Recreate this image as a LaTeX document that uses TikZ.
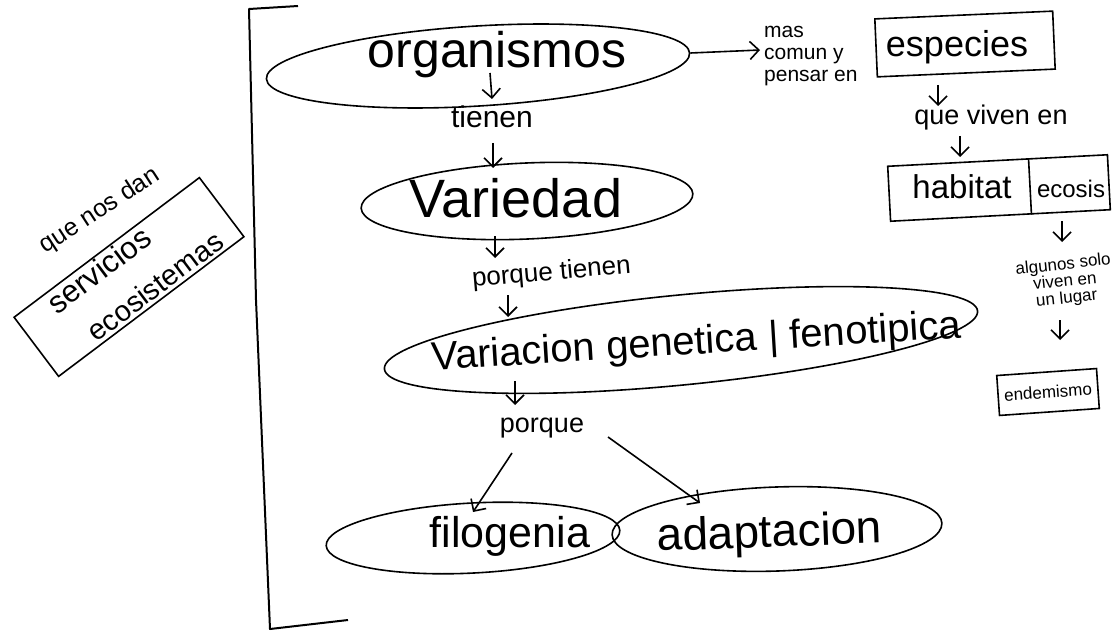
\documentclass[tikz,border=0pt]{standalone}
\usepackage{fontspec}
\setmainfont{Liberation Sans}
\usetikzlibrary{shapes.geometric,arrows.meta,calc}
\newcommand{\fsz}[2]{\fontsize{#1}{#2}\selectfont}

\begin{document}
\begin{tikzpicture}[x=1pt,y=-1pt,
  ink/.style={line width=1.6pt, draw=black},
  oval/.style={ink, ellipse, inner sep=0pt},
  frame/.style={ink, rectangle, inner sep=0pt},
  lbl/.style={inner sep=0pt, text=black},
  arr/.style={line width=1.6pt, black, -{Straight Barb[length=9pt,width=18pt]}},
]

\fill[white] (0,0) rectangle (1118,631);
\useasboundingbox (0,0) rectangle (1118,631);

% bracket that groups the central chain
\draw[line width=2pt, line join=round] (298,6) -- (249,9) -- (256,300) -- (270,629) -- (348,620);

% ---- central chain ----
\node[oval, minimum width=424pt, minimum height=80pt, rotate=3.5] (org) at (478,66) {};
\node[lbl, anchor=base, font=\fsz{50}{56}] (orgt) at (497,68) {organismos};

\node[lbl, anchor=base, font=\fsz{30}{34}] (tienen) at (492,128) {tienen};
\draw[arr] ($(tienen.base)+(-2,-55)$) -- ($(tienen.base)+(0,-29)$);
\draw[arr] ($(tienen.base)+(1,15)$) -- ($(tienen.base)+(1,40)$);

\node[oval, minimum width=332pt, minimum height=76pt, rotate=2.5] (var) at (527,201) {};
\node[lbl, anchor=base, font=\fsz{54}{60}] (vart) at (516,217) {Variedad};

\node[lbl, anchor=base, font=\fsz{26}{30}, rotate=5] (pt) at (552,280) {porque tienen};
\draw[arr] ($(pt.base)+(-57,-44)$) -- ($(pt.base)+(-57,-22)$);
\draw[arr] ($(pt.base)+(-44,15)$) -- ($(pt.base)+(-44,37)$);

\node[oval, minimum width=596pt, minimum height=90pt, rotate=5.6] (vgf) at (681,340) {};
\node[lbl, anchor=base, font=\fsz{40}{46}, rotate=3.5] (vgft) at (697,354) {Variacion genetica | fenotipica};

\node[lbl, anchor=base, font=\fsz{27}{30}] (porque) at (542,432) {porque};
\draw[arr] ($(porque.base)+(-27,-51)$) -- ($(porque.base)+(-27,-27)$);

\node[oval, minimum width=294pt, minimum height=70pt, rotate=3] (filo) at (473,538) {};
\node[lbl, anchor=base, font=\fsz{43}{48}] (filot) at (510,547) {filogenia};

\node[oval, minimum width=330pt, minimum height=84pt, rotate=2] (adap) at (777,529) {};
\node[lbl, anchor=base, font=\fsz{46}{50}, rotate=2] (adapt) at (770,547) {adaptacion};

\draw[arr] ($(porque.base)+(-30,21)$) -- ($(filo.center)+(0,-26)$);
\draw[arr] ($(porque.base)+(66,5)$) -- ($(adap.center)+(-77,-26)$);

% ---- right column ----
\node[lbl, anchor=west, align=left, font=\fsz{21}{22}] (mas) at (764,56) {mas\\comun y\\pensar en};
\draw[arr] (org.east) -- ($(org.east -| mas.west)+(-4,-3)$);

\node[frame, minimum width=178pt, minimum height=58pt, rotate=2.5] (esp) at (965,44) {};
\node[lbl, anchor=base, font=\fsz{36}{40}] (espt) at (957,57) {especies};

\node[lbl, anchor=base, font=\fsz{27}{30}] (viven) at (991,125) {que viven en};
\draw[arr] ($(viven.base)+(-53,-40)$) -- ($(viven.base)+(-53,-19)$);
\draw[arr] ($(viven.base)+(-31,11)$) -- ($(viven.base)+(-31,32)$);

\node[frame, minimum width=220pt, minimum height=55pt, rotate=3] (hab) at (999,188) {};
\node[lbl, anchor=base, font=\fsz{33}{36}] (habt) at (962,198) {habitat};
\node[lbl, anchor=base, font=\fsz{24}{28}] (ecot) at (1071,197) {ecosis};
\draw[ink] ($(hab.north west)!0.64!(hab.north east)$) -- ($(hab.south west)!0.64!(hab.south east)$);

\node[lbl, align=center, font=\fsz{17}{17}, rotate=6] (alg) at (1065,282) {algunos solo\\viven en\\un lugar};
\draw[arr] ($(alg.center)+(-3,-61)$) -- ($(alg.center)+(-3,-40)$);
\draw[arr] ($(alg.center)+(-5,38)$) -- ($(alg.center)+(-5,58)$);

\node[frame, minimum width=100pt, minimum height=40pt, rotate=4, font=\fsz{17}{17}] (end) at (1048,392) {endemismo};

% ---- left box ----
\node[frame, minimum width=232pt, minimum height=74pt, rotate=37] (serv) at (129,277) {};
\node[lbl, font=\fsz{31}{34}, rotate=37] (servt) at (99,270) {servicios};
\node[lbl, font=\fsz{29}{32}, rotate=37] (ecos) at (155,286) {ecosistemas};
\node[lbl, font=\fsz{25}{30}, rotate=33] (qnd) at (100,211) {que nos dan};

\end{tikzpicture}
\end{document}
